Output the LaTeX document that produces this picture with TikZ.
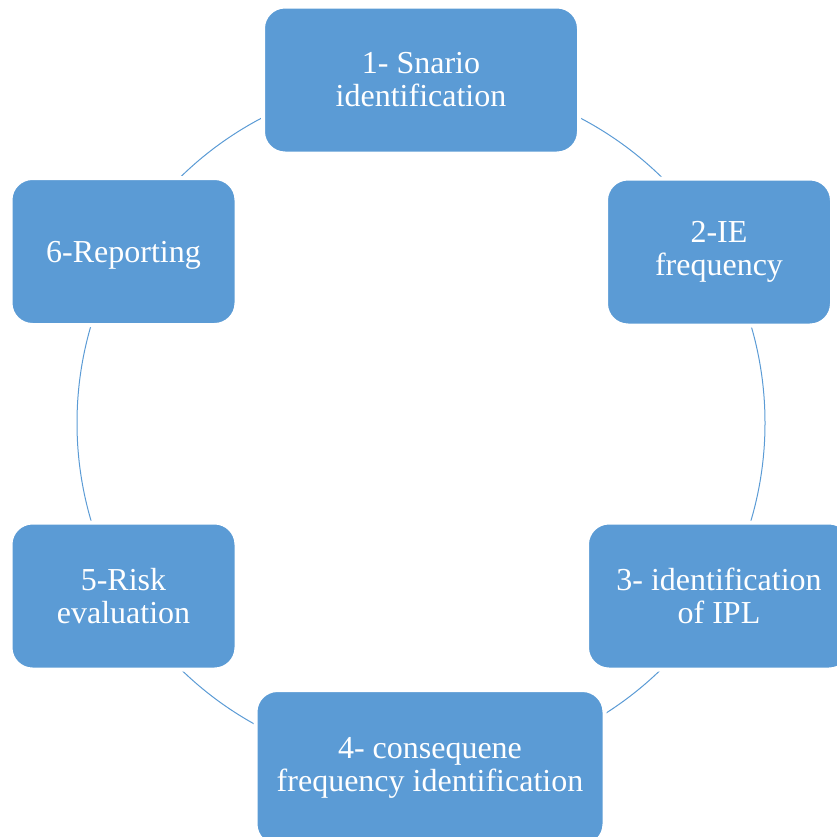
\documentclass[tikz,border=0pt]{standalone}
\usepackage{fontspec}
\setmainfont{Liberation Serif}
\definecolor{boxblue}{HTML}{5B9BD5}
\begin{document}
\begin{tikzpicture}[x=1pt,y=-1pt,
  stagebox/.style={fill=boxblue, draw=white, line width=4pt, rounded corners=22pt,
    text=white, align=center, inner sep=0pt,
    font=\fontsize{32}{33}\selectfont},
  ring/.style={draw=boxblue, line width=1pt}]
\useasboundingbox (0,0) rectangle (837,836);
\coordinate (c) at (421,423);
\draw[ring] (c) circle [radius=344pt];
\node[stagebox, minimum width=316pt, minimum height=147pt] (n1) at (421,80) {1- Snario\\identification};
\node[stagebox, minimum width=226pt, minimum height=147pt] (n2) at (719,252) {2-IE\\frequency};
\node[stagebox, minimum width=264pt, minimum height=147pt] (n3) at (719,596) {3- identification\\of IPL};
\node[stagebox, minimum width=349pt, minimum height=156pt] (n4) at (430,768) {4- consequene\\frequency identification};
\node[stagebox, minimum width=226pt, minimum height=147pt] (n5) at (123.5,596) {5-Risk\\evaluation};
\node[stagebox, minimum width=226pt, minimum height=147pt, text depth=0pt] (n6) at (123.5,251.5) {6-Reporting};
\end{tikzpicture}
\end{document}
